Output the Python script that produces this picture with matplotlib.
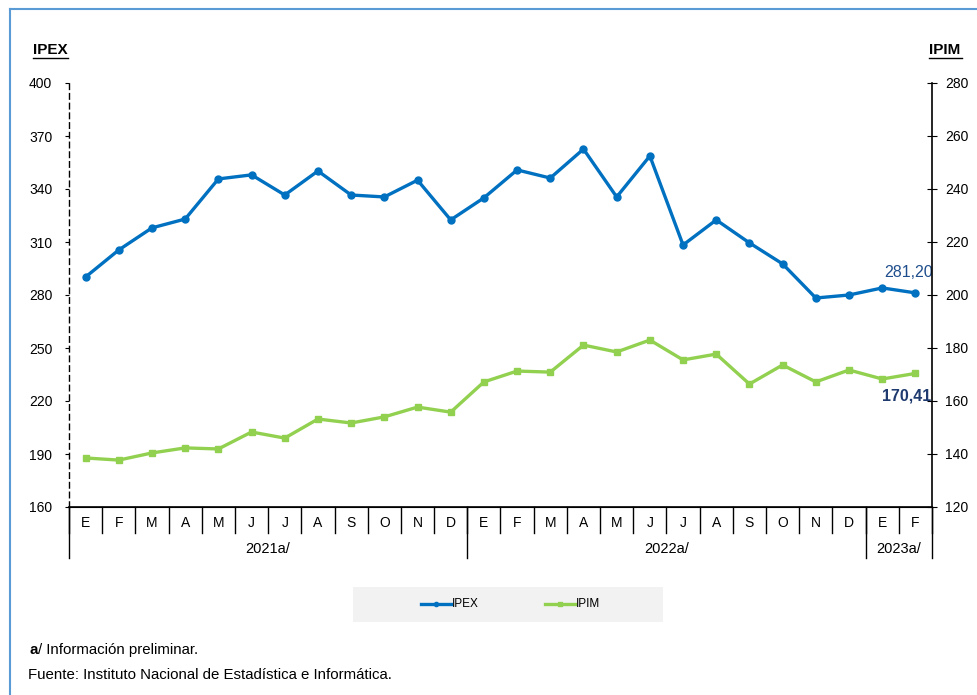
import matplotlib
matplotlib.use("Agg")
import matplotlib.pyplot as plt
from matplotlib.patches import Rectangle
from matplotlib.lines import Line2D

plt.rcParams['font.family'] = ['Liberation Sans', 'DejaVu Sans']

months = ["E", "F", "M", "A", "M", "J", "J", "A", "S", "O", "N", "D",
          "E", "F", "M", "A", "M", "J", "J", "A", "S", "O", "N", "D",
          "E", "F"]
years = ["2021a/", "2022a/", "2023a/"]
year_counts = [12, 12, 2]

ipex = [290.2, 305.5, 318.0, 323.0, 345.7, 348.0, 336.6, 350.2, 336.6, 335.5, 345.0, 322.5,
        335.0, 350.8, 346.2, 362.6, 335.5, 358.7, 308.3, 322.5, 309.5, 297.6, 278.3, 280.0,
        284.0, 281.2]
ipim = [138.5, 137.7, 140.4, 142.3, 141.9, 148.3, 146.0, 153.2, 151.7, 154.0, 157.7, 155.8,
        167.2, 171.3, 170.9, 181.1, 178.5, 183.0, 175.5, 177.7, 166.4, 173.6, 167.2, 171.7,
        168.3, 170.41]
last_labels = ["281,20", "170,41"]

blue = "#0070c0"
green = "#92d050"

fig = plt.figure(figsize=(9.78, 6.95), dpi=100)
W, H = 978, 695
ax = fig.add_axes([69 / W, 1 - 507 / H, (932 - 69) / W, (507 - 83) / H])
ax2 = ax.twinx()

x = list(range(len(months)))
ax.plot(x, ipex, color=blue, lw=2.4, marker="o", ms=5, zorder=3, label="IPEX")
ax2.plot(x, ipim, color=green, lw=2.4, marker="s", ms=4.5, zorder=3, label="IPIM")

ax.set_xlim(-0.5, len(months) - 0.5)
ax.set_ylim(160, 400)
ax.set_yticks(range(160, 401, 30))
ax2.set_ylim(120, 280)
ax2.set_yticks(range(120, 281, 20))

for a in (ax, ax2):
    a.spines['top'].set_visible(False)
ax.spines['right'].set_visible(False)
ax.spines['left'].set_linestyle((0, (4, 3)))
ax.spines['left'].set_linewidth(1.0)
ax2.spines['right'].set_linewidth(1.2)
ax2.spines['left'].set_visible(False)
ax.spines['bottom'].set_linewidth(1.2)

ax.tick_params(axis='y', direction='out', length=3, labelsize=10, pad=9)
ax2.tick_params(axis='y', direction='inout', length=7, labelsize=10, pad=6)
ax.set_xticks([])

# category axis
tr = ax.get_xaxis_transform()
month_line = -26 / 424
year_line = -51 / 424
for i in range(len(months) + 1):
    xb = i - 0.5
    ax.plot([xb, xb], [0, month_line], color="black", lw=1, transform=tr, clip_on=False)
for i, m in enumerate(months):
    ax.text(i, -16 / 424, m, transform=tr, ha="center", va="center", fontsize=10)
start = 0
bounds = [0]
for yl, c in zip(years, year_counts):
    ax.text(start + c / 2 - 0.5, -42 / 424, yl, transform=tr, ha="center", va="center", fontsize=10.5)
    start += c
    bounds.append(start)
for b in bounds:
    ax.plot([b - 0.5, b - 0.5], [0, year_line], color="black", lw=1, transform=tr, clip_on=False)

# axis titles
fig.text(33 / W, 1 - 50 / H, "IPEX", fontsize=11, fontweight="bold", va="center", ha="left")
fig.add_artist(Line2D([33 / W, 68 / W], [1 - 58 / H, 1 - 58 / H], color="black", lw=1))
fig.text(929 / W, 1 - 50 / H, "IPIM", fontsize=11, fontweight="bold", va="center", ha="left")
fig.add_artist(Line2D([929 / W, 962 / W], [1 - 58 / H, 1 - 58 / H], color="black", lw=1))

# data labels
n = len(months) - 1
ax.annotate(last_labels[0], (n, ipex[-1]), xytext=(-5, 9), textcoords="offset points",
            ha="center", va="bottom", fontsize=11.5, color="#1f4e8c")
ax2.annotate(last_labels[1], (n, ipim[-1]), xytext=(-6, -11), textcoords="offset points",
             ha="center", va="top", fontsize=11.5, color="#1f3a6e", fontweight="bold")

# legend box
fig.add_artist(Rectangle((353 / W, 1 - 622 / H), 310 / W, 35 / H, transform=fig.transFigure,
                         facecolor="#f2f2f2", edgecolor="none"))
ly = 1 - 604 / H
fig.add_artist(Line2D([421 / W, 451 / W], [ly, ly], color=blue, lw=2.4))
fig.add_artist(Line2D([436 / W], [ly], color=blue, marker="o", ms=3))
fig.text(452 / W, ly, "IPEX", fontsize=8.5, va="center", ha="left")
fig.add_artist(Line2D([545 / W, 575 / W], [ly, ly], color=green, lw=2.4))
fig.add_artist(Line2D([560 / W], [ly], color=green, marker="s", ms=3))
fig.text(576 / W, ly, "IPIM", fontsize=8.5, va="center", ha="left")

# footnotes
fig.text(30 / W, 1 - 650 / H, "a", fontsize=10.8, fontweight="bold", va="center", ha="left")
fig.text(38.5 / W, 1 - 650 / H, "/ Información preliminar.", fontsize=10.8, va="center", ha="left")
fig.text(28 / W, 1 - 675 / H, "Fuente: Instituto Nacional de Estadística e Informática.",
         fontsize=10.8, va="center", ha="left")

# frame border
fig.add_artist(Line2D([10 / W, 1.0], [1 - 9 / H, 1 - 9 / H], color="#5b9bd5", lw=1.5))
fig.add_artist(Line2D([10 / W, 10 / W], [0, 1 - 9 / H], color="#5b9bd5", lw=1.5))

fig.savefig("out.png", dpi=100)
